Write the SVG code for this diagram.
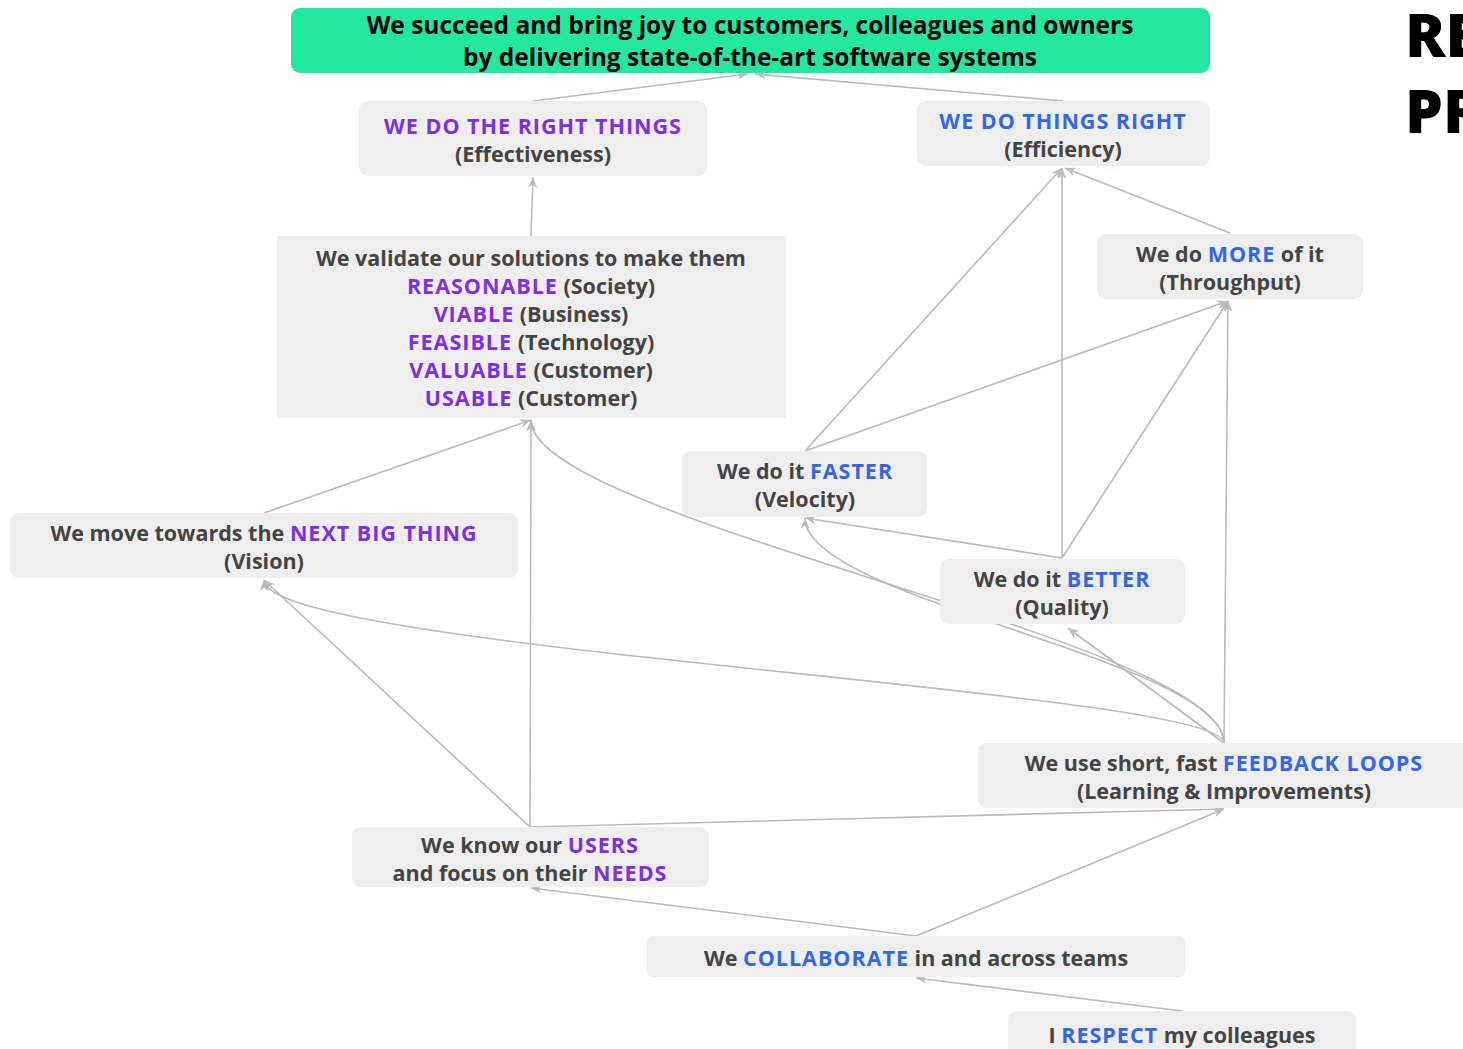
<svg xmlns="http://www.w3.org/2000/svg" width="1463" height="1049" viewBox="0 0 1463 1049">
<defs>
<marker id="ah" viewBox="0 0 12 10" refX="11" refY="5" markerWidth="12" markerHeight="10" markerUnits="userSpaceOnUse" orient="auto">
<path d="M0,0.5 L11,5 L0,9.5 L3.5,5 z" fill="#BBBBBB"/>
</marker>
<style>
.box{fill:#EEEEEE}
.t{font-family:"Open Sans",Lato,"Liberation Sans",sans-serif;font-weight:700;font-size:21.5px;fill:#444444;text-anchor:middle}
.top{font-family:"Open Sans",Lato,"Liberation Sans",sans-serif;font-weight:700;font-size:24.5px;fill:#000000;text-anchor:middle}
.p{fill:#7B2FE8;letter-spacing:1px}
.b{fill:#3366EE;letter-spacing:1px}
.e{fill:none;stroke:#BBBBBB;stroke-width:1.6;marker-end:url(#ah)}
.big{font-family:"Open Sans","Liberation Sans",sans-serif;font-weight:800;font-size:60px;fill:#000000}
</style>
</defs>
<rect width="1463" height="1049" fill="#FFFFFF"/>
<g id="connectors">
<path class="e" d="M533,101 L748,74"/>
<path class="e" d="M1063,101 L755,74"/>
<path class="e" d="M531,236 L533,177"/>
<path class="e" d="M1230,233 L1065,168"/>
<path class="e" d="M805,451 L1062,168"/>
<path class="e" d="M805,451 L1228,301"/>
<path class="e" d="M1062,558 L1062,168"/>
<path class="e" d="M1062,558 L1228,301"/>
<path class="e" d="M1062,558 L805,518"/>
<path class="e" d="M264,513 L531,420"/>
<path class="e" d="M530,827 L531,420"/>
<path class="e" d="M530,827 L264,580"/>
<path class="e" d="M530,827 L1224,809"/>
<path class="e" d="M916,936 L531,888"/>
<path class="e" d="M916,936 L1224,809"/>
<path class="e" d="M1182,1011 L916,978"/>
<path class="e" d="M1224,743 C1224,640 531,520 531,420"/>
<path class="e" d="M1224,743 C1224,660 805,600 805,518"/>
<path class="e" d="M1224,743 C1224,690 264,650 264,580"/>
<path class="e" d="M1224,743 L1068,628"/>
<path class="e" d="M1224,743 L1228,301"/>
</g>
<g id="goal">
<rect x="291" y="8" width="919" height="65" rx="9" fill="#22E8A0"/>
<text class="top" x="750" y="34">We succeed and bring joy to customers, colleagues and owners</text>
<text class="top" x="750" y="66">by delivering state-of-the-art software systems</text>
</g>
<g id="effectiveness">
<rect class="box" x="359" y="101" width="348" height="75" rx="9"/>
<text class="t" x="533" y="134"><tspan class="p">WE DO THE RIGHT THINGS</tspan></text>
<text class="t" x="533" y="162">(Effectiveness)</text>
</g>
<g id="efficiency">
<rect class="box" x="917" y="101" width="293" height="65" rx="9"/>
<text class="t" x="1063" y="129"><tspan class="b">WE DO THINGS RIGHT</tspan></text>
<text class="t" x="1063" y="157">(Efficiency)</text>
</g>
<g id="validate">
<rect class="box" x="277" y="236" width="509" height="182"/>
<text class="t" x="531" y="266">We validate our solutions to make them</text>
<text class="t" x="531" y="294"><tspan class="p">REASONABLE</tspan> (Society)</text>
<text class="t" x="531" y="322"><tspan class="p">VIABLE</tspan> (Business)</text>
<text class="t" x="531" y="350"><tspan class="p">FEASIBLE</tspan> (Technology)</text>
<text class="t" x="531" y="378"><tspan class="p">VALUABLE</tspan> (Customer)</text>
<text class="t" x="531" y="406"><tspan class="p">USABLE</tspan> (Customer)</text>
</g>
<g id="throughput">
<rect class="box" x="1097" y="234" width="266" height="65" rx="9"/>
<text class="t" x="1230" y="262">We do <tspan class="b">MORE</tspan> of it</text>
<text class="t" x="1230" y="290">(Throughput)</text>
</g>
<g id="velocity">
<rect class="box" x="682" y="451" width="245" height="66" rx="9"/>
<text class="t" x="805" y="479">We do it <tspan class="b">FASTER</tspan></text>
<text class="t" x="805" y="507">(Velocity)</text>
</g>
<g id="vision">
<rect class="box" x="10" y="513" width="508" height="65" rx="9"/>
<text class="t" x="264" y="541">We move towards the <tspan class="p">NEXT BIG THING</tspan></text>
<text class="t" x="264" y="569">(Vision)</text>
</g>
<g id="quality">
<rect class="box" x="940" y="559" width="245" height="65" rx="9"/>
<text class="t" x="1062" y="587">We do it <tspan class="b">BETTER</tspan></text>
<text class="t" x="1062" y="615">(Quality)</text>
</g>
<g id="feedback">
<rect class="box" x="978" y="743" width="500" height="65" rx="9"/>
<text class="t" x="1224" y="771">We use short, fast <tspan class="b">FEEDBACK LOOPS</tspan></text>
<text class="t" x="1224" y="799">(Learning &amp; Improvements)</text>
</g>
<g id="users">
<rect class="box" x="352" y="827" width="357" height="60" rx="9"/>
<text class="t" x="530" y="853">We know our <tspan class="p">USERS</tspan></text>
<text class="t" x="530" y="881">and focus on their <tspan class="p">NEEDS</tspan></text>
</g>
<g id="collaborate">
<rect class="box" x="647" y="936" width="538" height="41" rx="6"/>
<text class="t" x="916" y="966">We <tspan class="b">COLLABORATE</tspan> in and across teams</text>
</g>
<g id="respect">
<rect class="box" x="1008" y="1011" width="348" height="50" rx="9"/>
<text class="t" x="1182" y="1043">I <tspan class="b">RESPECT</tspan> my colleagues</text>
</g>
<g id="title">
<text class="big" x="1405" y="57">RE</text>
<text class="big" x="1405" y="133">PR</text>
</g>
</svg>
